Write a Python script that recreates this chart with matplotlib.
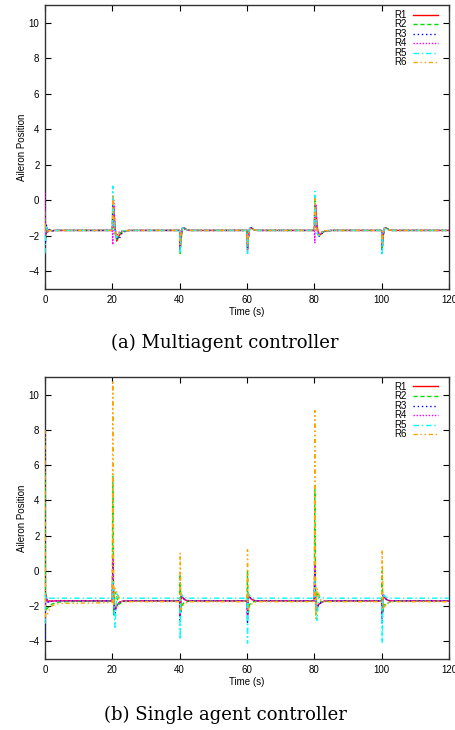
import matplotlib
matplotlib.use("Agg")
import matplotlib.pyplot as plt

# shared time grid (s) for both panels
time = [0, 0.15, 0.4, 0.8, 1.3, 2.0, 3.0, 5.0,
        20, 20.15, 20.4, 20.8, 21.3, 22.0, 23.0, 25.0,
        40, 40.15, 40.4, 40.8, 41.3, 42.0, 43.0, 45.0,
        60, 60.15, 60.4, 60.8, 61.3, 62.0, 63.0, 65.0,
        80, 80.15, 80.4, 80.8, 81.3, 82.0, 83.0, 85.0,
        100, 100.15, 100.4, 100.8, 101.3, 102.0, 103.0, 105.0,
        120]

labels = ["R1", "R2", "R3", "R4", "R5", "R6"]

# (a) Multiagent controller
a_R1 = [-1.0, -2.0, -1.45, -1.8, -1.65, -1.72, -1.7, -1.7,
        -1.7, -0.5, -0.3, -1.5, -2.3, -2.0, -1.75, -1.7,
        -1.7, -2.8, -2.2, -1.6, -1.55, -1.65, -1.7, -1.7,
        -1.7, -2.8, -2.1, -1.6, -1.55, -1.65, -1.7, -1.7,
        -1.7, -0.4, -0.3, -1.4, -2.0, -1.9, -1.75, -1.7,
        -1.7, -2.7, -2.1, -1.6, -1.55, -1.65, -1.7, -1.7,
        -1.7]
a_R2 = [-0.6, -2.2, -1.5, -1.75, -1.65, -1.72, -1.7, -1.7,
        -1.7, 0.2, -1.2, -1.9, -2.2, -1.9, -1.75, -1.7,
        -1.7, -3.0, -2.3, -1.6, -1.55, -1.65, -1.7, -1.7,
        -1.7, -2.7, -2.0, -1.6, -1.55, -1.65, -1.7, -1.7,
        -1.7, 0.0, -1.0, -1.8, -2.0, -1.85, -1.75, -1.7,
        -1.7, -2.8, -2.1, -1.6, -1.55, -1.65, -1.7, -1.7,
        -1.7]
a_R3 = [-1.5, -2.4, -1.4, -1.75, -1.65, -1.72, -1.7, -1.7,
        -1.7, -0.2, -1.0, -1.8, -2.1, -2.2, -1.8, -1.7,
        -1.7, -2.7, -2.0, -1.55, -1.6, -1.65, -1.7, -1.7,
        -1.7, -2.9, -2.2, -1.6, -1.55, -1.65, -1.7, -1.7,
        -1.7, -0.2, -1.1, -1.8, -2.05, -1.9, -1.75, -1.7,
        -1.7, -3.0, -2.2, -1.6, -1.55, -1.65, -1.7, -1.7,
        -1.7]
a_R4 = [0.4, -1.9, -1.5, -1.8, -1.7, -1.72, -1.7, -1.7,
        -1.7, -2.5, 0.0, -1.6, -2.0, -1.8, -1.72, -1.7,
        -1.7, -2.6, -2.0, -1.5, -1.6, -1.65, -1.7, -1.7,
        -1.7, -2.6, -2.0, -1.55, -1.6, -1.65, -1.7, -1.7,
        -1.7, -2.4, -0.2, -1.6, -1.9, -1.8, -1.72, -1.7,
        -1.7, -2.6, -2.0, -1.55, -1.6, -1.65, -1.7, -1.7,
        -1.7]
a_R5 = [-3.0, -1.6, -1.5, -1.7, -1.7, -1.72, -1.7, -1.7,
        -1.7, 0.8, -0.8, -1.8, -2.1, -1.85, -1.72, -1.7,
        -1.7, -2.9, -2.1, -1.55, -1.6, -1.65, -1.7, -1.7,
        -1.7, -3.0, -2.1, -1.55, -1.6, -1.65, -1.7, -1.7,
        -1.7, 0.5, -0.9, -1.8, -2.0, -1.85, -1.72, -1.7,
        -1.7, -3.0, -2.1, -1.55, -1.6, -1.65, -1.7, -1.7,
        -1.7]
a_R6 = [-1.3, -1.8, -1.6, -1.75, -1.7, -1.72, -1.7, -1.7,
        -1.7, 0.3, -0.9, -1.7, -2.0, -1.85, -1.72, -1.7,
        -1.7, -2.5, -1.9, -1.6, -1.6, -1.65, -1.7, -1.7,
        -1.7, -2.5, -1.9, -1.6, -1.6, -1.65, -1.7, -1.7,
        -1.7, 0.1, -0.8, -1.7, -1.95, -1.8, -1.72, -1.7,
        -1.7, -2.5, -1.9, -1.6, -1.6, -1.65, -1.7, -1.7,
        -1.7]

# (b) Single agent controller
b_R1 = [-2.5, -1.3, -1.6, -1.75, -1.7, -1.72, -1.7, -1.7,
        -1.7, 0.5, -1.5, -2.2, -2.0, -1.8, -1.72, -1.7,
        -1.7, -2.5, -1.5, -1.5, -1.6, -1.68, -1.7, -1.7,
        -1.7, -2.5, -1.5, -1.5, -1.6, -1.68, -1.7, -1.7,
        -1.7, 0.3, -1.5, -2.1, -1.9, -1.8, -1.72, -1.7,
        -1.7, -2.5, -1.5, -1.5, -1.6, -1.68, -1.7, -1.7,
        -1.7]
b_R2 = [5.5, -2.3, -2.2, -2.1, -2.0, -1.9, -1.8, -1.75,
        -1.7, 5.4, -2.5, -1.2, -1.5, -1.9, -1.75, -1.7,
        -1.7, -0.2, -2.3, -1.9, -1.8, -1.75, -1.7, -1.7,
        -1.7, 0.0, -2.4, -1.9, -1.8, -1.75, -1.7, -1.7,
        -1.7, 4.7, -2.5, -1.2, -1.4, -1.8, -1.75, -1.7,
        -1.7, 0.0, -2.3, -1.9, -2.0, -1.8, -1.72, -1.7,
        -1.7]
b_R3 = [-3.8, -1.4, -1.5, -1.8, -1.7, -1.72, -1.7, -1.7,
        -1.7, 0.6, -1.8, -2.4, -1.9, -1.8, -1.72, -1.7,
        -1.7, -2.9, -1.4, -1.5, -1.6, -1.68, -1.7, -1.7,
        -1.7, -3.0, -1.3, -1.5, -1.6, -1.68, -1.7, -1.7,
        -1.7, 0.5, -1.8, -2.3, -1.9, -1.8, -1.72, -1.7,
        -1.7, -3.0, -1.3, -1.5, -1.6, -1.68, -1.7, -1.7,
        -1.7]
b_R4 = [-2.8, -1.4, -1.6, -1.8, -1.75, -1.72, -1.7, -1.7,
        -1.7, 0.7, -2.0, -2.2, -1.9, -1.8, -1.72, -1.7,
        -1.7, -2.6, -1.3, -1.45, -1.6, -1.68, -1.7, -1.7,
        -1.7, -2.7, -1.3, -1.45, -1.6, -1.68, -1.7, -1.7,
        -1.7, 0.3, -2.0, -2.1, -1.9, -1.8, -1.72, -1.7,
        -1.7, -2.7, -1.3, -1.45, -1.6, -1.68, -1.7, -1.7,
        -1.7]
b_R5 = [-3.0, -1.3, -1.5, -1.6, -1.55, -1.55, -1.55, -1.55,
        -1.55, -0.5, -1.5, -3.2, -1.3, -1.5, -1.55, -1.55,
        -1.55, -3.9, -1.3, -1.4, -1.5, -1.55, -1.55, -1.55,
        -1.55, -4.1, -1.3, -1.4, -1.5, -1.55, -1.55, -1.55,
        -1.55, -0.5, -1.5, -2.8, -1.4, -1.5, -1.55, -1.55,
        -1.55, -4.1, -1.3, -1.4, -1.5, -1.55, -1.55, -1.55,
        -1.55]
b_R6 = [8.0, -2.6, -2.6, -2.4, -2.2, -2.0, -1.9, -1.85,
        -1.8, 10.8, -2.0, -1.0, -1.2, -1.6, -1.75, -1.75,
        -1.75, 1.0, -2.2, -2.0, -1.9, -1.8, -1.75, -1.75,
        -1.75, 1.2, -2.2, -2.0, -1.9, -1.8, -1.75, -1.75,
        -1.75, 9.1, -2.7, -1.0, -1.3, -1.7, -1.75, -1.75,
        -1.75, 1.2, -2.2, -2.0, -1.9, -1.8, -1.75, -1.75,
        -1.75]

x_ticks = [0, 20, 40, 60, 80, 100, 120]
y_ticks = [-4, -2, 0, 2, 4, 6, 8, 10]

colors = ["#ff0000", "#00dd00", "#0000ff", "#ff00ff", "#00ffff", "#ffa500"]
dashes = [None, (3, 2), (1, 2), (1, 1.2), (4, 2, 1, 2), (3, 2, 1, 2, 1, 2)]

plt.rcParams['font.family'] = ['Liberation Sans', 'DejaVu Sans']

fig = plt.figure(figsize=(4.56, 7.30), dpi=100)
W, H = 456, 730
ax_a = fig.add_axes([45 / W, 1 - 289 / H, 404 / W, 284 / H])
ax_b = fig.add_axes([45 / W, 1 - 659 / H, 404 / W, 282 / H])

panels = [(ax_a, [a_R1, a_R2, a_R3, a_R4, a_R5, a_R6]),
          (ax_b, [b_R1, b_R2, b_R3, b_R4, b_R5, b_R6])]

for ax, series in panels:
    for lab, vals, c, d in zip(labels, series, colors, dashes):
        ln, = ax.plot(time, vals, color=c, lw=1.0, label=lab, zorder=3)
        if d is not None:
            ln.set_dashes(d)
    ax.set_xlim(0, 120)
    ax.set_ylim(-5, 11)
    ax.set_xticks(x_ticks)
    ax.set_yticks(y_ticks)
    ax.tick_params(direction='in', top=True, right=True, length=4,
                   width=0.8, labelsize=7, pad=4)
    for s in ax.spines.values():
        s.set_linewidth(1.0)
        s.set_color('#333333')
    ax.set_ylabel("Aileron Position", fontsize=7, labelpad=1)
    ax.set_xlabel("Time (s)", fontsize=7, labelpad=2)
    bb = ax.get_position()
    leg = ax.legend(loc='upper right', frameon=False, markerfirst=False,
                    fontsize=7, handlelength=2.6, labelspacing=-0.05,
                    borderaxespad=0.0, borderpad=0.3, handletextpad=0.6,
                    bbox_to_anchor=(1 - 8 / 404, 1 - 2 / 284))

fig.text(225 / W, 1 - 343 / H, "(a) Multiagent controller", ha='center',
         va='center', fontsize=13, family='DejaVu Serif')
fig.text(225 / W, 1 - 715 / H, "(b) Single agent controller", ha='center',
         va='center', fontsize=13, family='DejaVu Serif')

fig.savefig("out.png", dpi=100, facecolor='white')
